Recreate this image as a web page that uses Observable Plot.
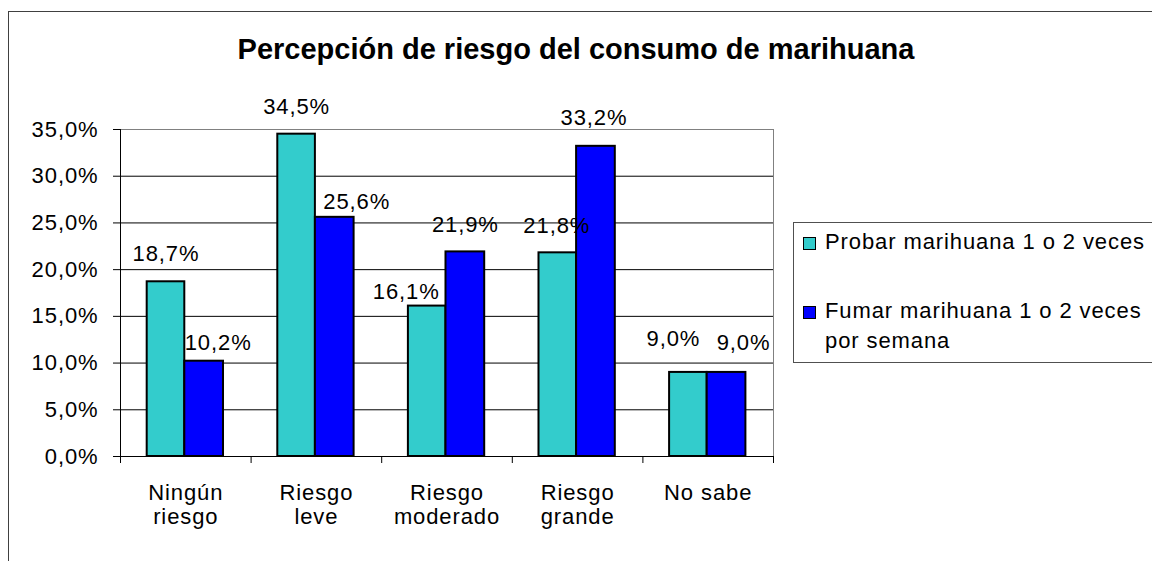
<!DOCTYPE html>
<html>
<head>
<meta charset="utf-8">
<script src="https://cdn.jsdelivr.net/npm/d3@7"></script>
<script src="https://cdn.jsdelivr.net/npm/@observablehq/plot@0.6"></script>
<style>
  html, body { margin: 0; padding: 0; background: #fff; overflow: hidden; }
  #wrap { position: relative; width: 1152px; height: 561px; font-family: "Liberation Sans", Arial, sans-serif; color: #000; }
  #chart { position: absolute; left: 0; top: 0; }
  #border { position: absolute; left: 8px; top: 11px; width: 1300px; height: 700px; border: 1px solid #404040; box-sizing: border-box; pointer-events: none; }
  #title { position: absolute; left: 0; top: 35px; width: 1152px; text-align: center; font-weight: bold; font-size: 29px; line-height: 29px; white-space: nowrap; }
  #legend { position: absolute; left: 793px; top: 222px; width: 420px; height: 141px; border: 1px solid #505050; box-sizing: border-box; background: #fff; }
  .item { position: absolute; left: 9px; display: flex; align-items: flex-start; }
  .sw { flex: none; width: 11px; height: 11px; border: 1px solid #000; margin-top: 10px; }
  .lab { margin-left: 9px; width: 335px; font-size: 22px; line-height: 30px; letter-spacing: 0.9px; }
</style>
</head>
<body>
<div id="wrap">
  <div id="chart"></div>
  <div id="border"></div>
  <div id="title"></div>
  <div id="legend"></div>
</div>
<script>
const title = "Percepción de riesgo del consumo de marihuana";
const categories = ["Ningún\nriesgo", "Riesgo\nleve", "Riesgo\nmoderado", "Riesgo\ngrande", "No sabe"];
const seriesNames = ["Probar marihuana 1 o 2 veces", "Fumar marihuana 1 o 2 veces por semana"];
const probar = [18.7, 34.5, 16.1, 21.8, 9.0];
const fumar = [10.2, 25.6, 21.9, 33.2, 9.0];
const yTicks = [0, 5, 10, 15, 20, 25, 30, 35];

// styling / layout (not data)
const colors = ["#33CCCC", "#0000FF"];
const barSpan = [[-0.2956, -0.0077], [-0.0077, 0.2887]]; // bar extents within a category (category units)
const labelOffsets = [
  [[0, -21], [0, -20.5], [-21, -7], [-1, -20], [-15, -26]],
  [[14, -11], [22, -8], [0, -20], [-2, -21], [17, -22]]
];

const fmt = v => v.toFixed(1).replace(".", ",") + "%";
const series = [probar, fumar];
const rows = [];
series.forEach((vals, s) => vals.forEach((v, i) => rows.push({
  cat: i, s, value: v,
  x1: i + 0.5 + barSpan[s][0], x2: i + 0.5 + barSpan[s][1]
})));

const labelMarks = rows.map(r => Plot.text([r], {
  x: d => (d.x1 + d.x2) / 2, y: "value", text: d => fmt(d.value),
  lineAnchor: "bottom", dx: labelOffsets[r.s][r.cat][0], dy: labelOffsets[r.s][r.cat][1],
  fill: "#000"
}));

const chart = Plot.plot({
  width: 1152, height: 561,
  marginLeft: 120, marginRight: 379, marginTop: 129, marginBottom: 105,
  style: { fontFamily: "'Liberation Sans', Arial, sans-serif", fontSize: "22px", letterSpacing: "0.9px", background: "transparent", overflow: "visible", color: "#000" },
  x: { type: "linear", domain: [0, categories.length], label: null },
  y: { domain: [0, 35], label: null },
  marks: [
    Plot.frame({ stroke: "#808080" }),
    Plot.ruleY(yTicks.filter(t => t > 0 && t < 35), { stroke: "#000", strokeWidth: 1 }),
    Plot.rectY(rows, { x1: "x1", x2: "x2", y1: 0, y2: "value", fill: d => colors[d.s], stroke: "#000", strokeWidth: 2 }),
    Plot.ruleX([0], { stroke: "#000" }),
    Plot.ruleY([0], { stroke: "#000" }),
    Plot.axisY({ ticks: yTicks, tickFormat: fmt, tickSize: 7, tickPadding: 15, fontSize: 22, stroke: "#000", label: null }),
    Plot.axisX({ ticks: d3.range(categories.length + 1), tickFormat: () => "", tickSize: 7, stroke: "#000", label: null }),
    Plot.text(categories, { x: (d, i) => i + 0.5, text: d => d, frameAnchor: "bottom", lineAnchor: "top", dy: 27, lineHeight: 1.07, fontSize: 22, fill: "#000" }),
    ...labelMarks
  ]
});
document.getElementById("chart").appendChild(chart);
document.getElementById("title").textContent = title;

const legend = document.getElementById("legend");
const itemTops = [4, 73];
seriesNames.forEach((name, i) => {
  const it = document.createElement("div");
  it.className = "item";
  it.style.top = itemTops[i] + "px";
  const sw = document.createElement("span");
  sw.className = "sw";
  sw.style.background = colors[i];
  const lab = document.createElement("span");
  lab.className = "lab";
  lab.textContent = name;
  it.appendChild(sw); it.appendChild(lab);
  legend.appendChild(it);
});
</script>
</body>
</html>
